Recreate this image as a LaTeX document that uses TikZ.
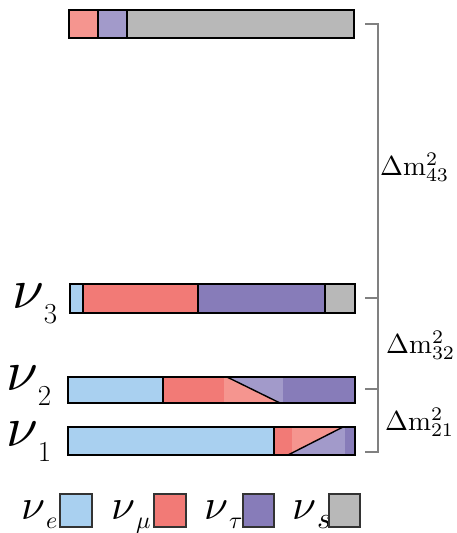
\documentclass[tikz,border=0pt]{standalone}
\usepackage{graphicx}
\definecolor{nue}{HTML}{A9D0F0}
\definecolor{numu}{HTML}{F27A76}
\definecolor{numul}{HTML}{F5958F}
\definecolor{nutau}{HTML}{877CB9}
\definecolor{nutaul}{HTML}{A29ACA}
\definecolor{nus}{HTML}{B8B8B8}
\definecolor{brk}{HTML}{808080}
\newcommand{\bignu}[1]{\scalebox{5.7}{$\nu$}\kern0pt\raisebox{-15pt}{\fontsize{29}{29}\selectfont #1}}
\newcommand{\legnu}[2]{\scalebox{4.3}{$\nu$}\kern1pt\raisebox{-9pt}{\scalebox{#2}{$#1$}}}
\begin{document}
\begin{tikzpicture}[x=1pt,y=-1pt,
  frame/.style={draw=black,line width=2pt},
  divl/.style={draw=black,line width=1.4pt},
  brack/.style={draw=brk,line width=2pt},
  dm/.style={anchor=base west,inner sep=0pt},
  nl/.style={anchor=base west,inner sep=0pt},
  legbox/.style={draw=black!80,line width=1.2pt}]
\useasboundingbox (0,0) rectangle (456,533);
% top bar (sterile state)
\filldraw[fill=numul,line width=2.5pt] (69,10) rectangle (98,38);
\filldraw[fill=nutaul,line width=2.5pt] (98,10) rectangle (127,38);
\filldraw[fill=nus,line width=2.5pt] (127,10) rectangle (354,38);
% nu3
\fill[nue] (70,284) rectangle (83,313);
\fill[numu] (83,284) rectangle (198,313);
\fill[nutau] (198,284) rectangle (325,313);
\draw[divl] (83,284) -- (83,313);
\draw[divl] (198,284) -- (198,313);
\draw[frame] (70,284) rectangle (355,313);
\filldraw[fill=nus,line width=2.5pt] (325,284) rectangle (355,313);
% nu2
\fill[nue] (68,377) rectangle (163,403);
\fill[numu] (163,377) rectangle (224,403);
\fill[numul] (224,377) -- (227,377) -- (280,403) -- (224,403) -- cycle;
\fill[nutaul] (227,377) -- (283,377) -- (283,403) -- (280,403) -- cycle;
\fill[nutau] (283,377) rectangle (355,403);
\draw[divl] (163,377) -- (163,403);
\draw[divl] (227,377) -- (280,403);
\draw[frame] (68,377) rectangle (355,403);
% nu1
\fill[nue] (68,427) rectangle (274,455);
\fill[numu] (274,427) rectangle (292,455);
\fill[numul] (292,427) -- (343,427) -- (288,455) -- (292,455) -- cycle;
\fill[nutaul] (288,455) -- (343,427) -- (345,427) -- (345,455) -- cycle;
\fill[nutau] (345,427) rectangle (355,455);
\draw[divl] (274,427) -- (274,455);
\draw[divl] (288,455) -- (343,427);
\draw[frame] (68,427) rectangle (355,455);
% bracket
\coordinate (b4) at (365,24);
\coordinate (b3) at (365,298);
\coordinate (b2) at (365,389);
\coordinate (b1) at (365,452);
\draw[brack] (b4) -- ++(13,0) -- ([xshift=13pt]b1) -- (b1);
\draw[brack] (b3) -- ++(13,0);
\draw[brack] (b2) -- ++(13,0);
\node[dm] (d43) at (380,175) {\scalebox{2.75}{$\Delta\mathrm{m}^2_{43}$}};
\node[dm] (d32) at (386,353) {\scalebox{2.75}{$\Delta\mathrm{m}^2_{32}$}};
\node[dm] (d21) at (385,430) {\scalebox{2.75}{$\Delta\mathrm{m}^2_{21}$}};
% state labels
\node[nl] (n3) at (12,308) {\bignu{3}};
\node[nl] (n2) at (6,390) {\bignu{2}};
\node[nl] (n1) at (6,446) {\bignu{1}};
% legend
\node[nl] (le) at (21,519) {\legnu{e}{2.4}};
\node[nl] (lm) at (111,519) {\legnu{\mu}{2.4}};
\node[nl] (lt) at (204,519) {\legnu{\tau}{2.4}};
\node[nl] (ls) at (292,519) {\legnu{s}{3.0}};
\filldraw[legbox,fill=nue] (60,494) rectangle (92,527);
\filldraw[legbox,fill=numu] (154,494) rectangle (186,527);
\filldraw[legbox,fill=nutau] (243,494) rectangle (274,527);
\filldraw[legbox,fill=nus] (329,494) rectangle (360,527);
\end{tikzpicture}
\end{document}
